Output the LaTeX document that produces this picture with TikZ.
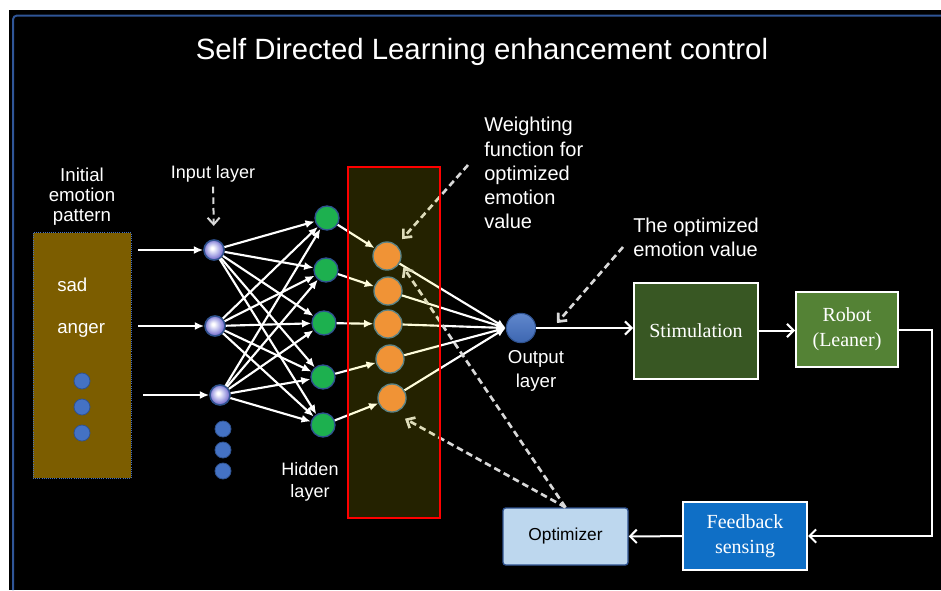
\documentclass[tikz,border=0pt]{standalone}
\usepackage{fontspec}
\setmainfont{Liberation Sans}
\newfontfamily\boxfont{Liberation Serif}
\usetikzlibrary{arrows.meta}
\definecolor{frameblue}{HTML}{2F5597}
\definecolor{patbrown}{HTML}{7C5D00}
\definecolor{dotblue}{HTML}{4472C4}
\definecolor{dotedge}{HTML}{2F528F}
\definecolor{inball}{HTML}{B4B4EA}
\definecolor{inrim}{HTML}{6A5EC6}
\definecolor{hidgreen}{HTML}{1DB04F}
\definecolor{worange}{HTML}{EE8440}
\definecolor{wedge}{HTML}{41719C}
\definecolor{hintgray}{HTML}{D9D9D9}
\definecolor{stimgreen}{HTML}{385723}
\definecolor{robotgreen}{HTML}{548235}
\definecolor{feedblue}{HTML}{0F6FC6}
\definecolor{optblue}{HTML}{BDD7EE}
\pgfdeclareradialshading{glass}{\pgfpoint{-5bp}{5bp}}{color(0bp)=(white);color(3bp)=(white);color(15bp)=(inball);color(27bp)=(inrim);color(40bp)=(inrim)}
\begin{document}
\begin{tikzpicture}[x=0.75pt,y=-0.75pt,
        txt/.style={text=white,inner sep=0pt,align=center},
        dot/.style={circle,fill=dotblue,draw=dotedge,line width=0.6pt,minimum size=12pt,inner sep=0pt},
        innode/.style={circle,shading=glass,draw=dotedge,line width=1.2pt,minimum size=15pt,inner sep=0pt},
        hidnode/.style={circle,fill=hidgreen,draw=dotedge,line width=1pt,minimum size=18pt,inner sep=0pt},
        wnode/.style={circle,fill=worange,draw=wedge,line width=1pt,minimum size=21pt,inner sep=0pt},
        net/.style={white,line width=1.6pt,-{Latex[length=7pt,width=6pt]}},
        flow/.style={white,line width=1.5pt,-{Straight Barb[length=5pt,width=10pt]}},
        hint/.style={hintgray,line width=2pt,dash pattern=on 5pt off 3pt,-{Straight Barb[length=5pt,width=9pt]}},
        block/.style={draw=white,line width=1.5pt,text=white,font=\boxfont\fontsize{15}{19}\selectfont,align=center,inner sep=0pt}]
    \useasboundingbox (0,0) rectangle (941,590);
    \fill[white] (0,0) rectangle (941,590);
    \fill[black] (9,10) rectangle (941,590);
    \draw[frameblue,line width=1.5pt,rounded corners=3] (13,590) -- (13,15.5) -- (941,15.5);
    \node[txt,font=\fontsize{22}{26}\selectfont] (title) at (482,52) {Self Directed Learning enhancement control};

    \node[draw=dotblue,densely dotted,line width=0.6pt,fill=patbrown,minimum width=73.5pt,minimum height=184pt,inner sep=0pt] (pattern) at (82,355.5) {};
    \node[txt,font=\fontsize{14}{15}\selectfont] (patlabel) at (82,197) {Initial\\emotion\\pattern};
    \node[txt,anchor=base west,font=\fontsize{14}{16}\selectfont] (sad) at (57,291) {sad};
    \node[txt,anchor=base west,font=\fontsize{14}{16}\selectfont] (anger) at (57,333) {anger};
    \foreach \y [count=\i] in {381,407,433}
        \node[dot] (pd\i) at (82,\y) {};

    \node[innode] (in1) at (214,250) {};
    \node[innode] (in2) at (215,326) {};
    \node[innode] (in3) at (220,395) {};
    \foreach \y [count=\i] in {429,450,471}
        \node[dot] (id\i) at (223,\y) {};
    \coordinate (src1) at (138,250);
    \coordinate (src2) at (138,326);
    \coordinate (src3) at (143,395);
    \foreach \i in {1,2,3}
        \draw[net] (src\i) -- (in\i);
    \node[txt,font=\fontsize{13.5}{16}\selectfont] (inlabel) at (213,174) {Input layer};
    \draw[hint,line width=1.5pt,shorten <=3pt,shorten >=10pt] (inlabel.south) -- (in1.north);

    \foreach \x/\y [count=\i] in {327/218,326/270,324/323,323/377,323/425}
        \node[hidnode] (h\i) at (\x,\y) {};
    \foreach \i in {1,2,3}
        \foreach \j in {1,...,5}
            \draw[net] (in\i) -- (h\j);
    \node[txt,font=\fontsize{13.5}{16.5}\selectfont] (hidlabel) at (310,482) {Hidden\\layer};

    \foreach \x/\y [count=\i] in {387/256,388/291,388/324,390/359,392/398}
        \node[wnode] (w\i) at (\x,\y) {};
    \node[circle,top color=dotblue!85!white,bottom color=dotblue!90!black,draw=dotedge,line width=0.8pt,minimum size=22pt,inner sep=0pt] (out) at (521,328) {};
    \foreach \i in {1,...,5} {
        \draw[net] (h\i) -- (w\i);
        \draw[net] (w\i) -- (out.west);
    }
    \node[txt,font=\fontsize{14}{18}\selectfont] (outlabel) at (536,371) {Output\\layer};

    \node[block,fill=stimgreen,minimum width=93pt,minimum height=72pt] (stim) at (696,330.5) {Stimulation};
    \node[block,fill=robotgreen,minimum width=76.5pt,minimum height=56pt] (robot) at (847,329.5) {Robot\\(Leaner)};
    \node[block,fill=feedblue,minimum width=93pt,minimum height=51pt] (feed) at (745,536) {Feedback\\sensing};
    \node[draw=dotedge,line width=1pt,rounded corners=2pt,fill=optblue,font=\fontsize{13}{15}\selectfont,minimum width=93.75pt,minimum height=42.75pt,inner sep=0pt] (opt) at (565.5,536.5) {Optimizer};
    \draw[flow] (out.east) -- (out.east -| stim.west);
    \draw[flow] (stim.east) -- (stim.east -| robot.west);
    \draw[flow] (robot.east) -- ++(33,0) |- (feed.east);
    \draw[flow] (feed) -- (opt);

    \node[txt,align=left,anchor=north west,font=\fontsize{15}{18.2}\selectfont] (wlabel) at (484,117) {Weighting\\function for\\optimized\\emotion\\value};
    \node[txt,align=left,anchor=north west,font=\fontsize{15}{18}\selectfont] (olabel) at (633,218) {The optimized\\emotion value};
    \coordinate (wtail) at (468,165);
    \coordinate (otail) at (623,247);
    \coordinate (otip) at (557,323);
    \draw[hint,shorten >=6pt] (wtail) -- (w1);
    \draw[hint] (otail) -- (otip);
    \draw[hint] (opt.north) -- ([shift={(6,1)}]w1.south east);
    \draw[hint] (opt.north) -- ([shift={(13,6)}]w5.south);

    \draw[red,line width=1.5pt,fill=yellow,fill opacity=0.14] (348,167) rectangle (440,518);
\end{tikzpicture}
\end{document}
